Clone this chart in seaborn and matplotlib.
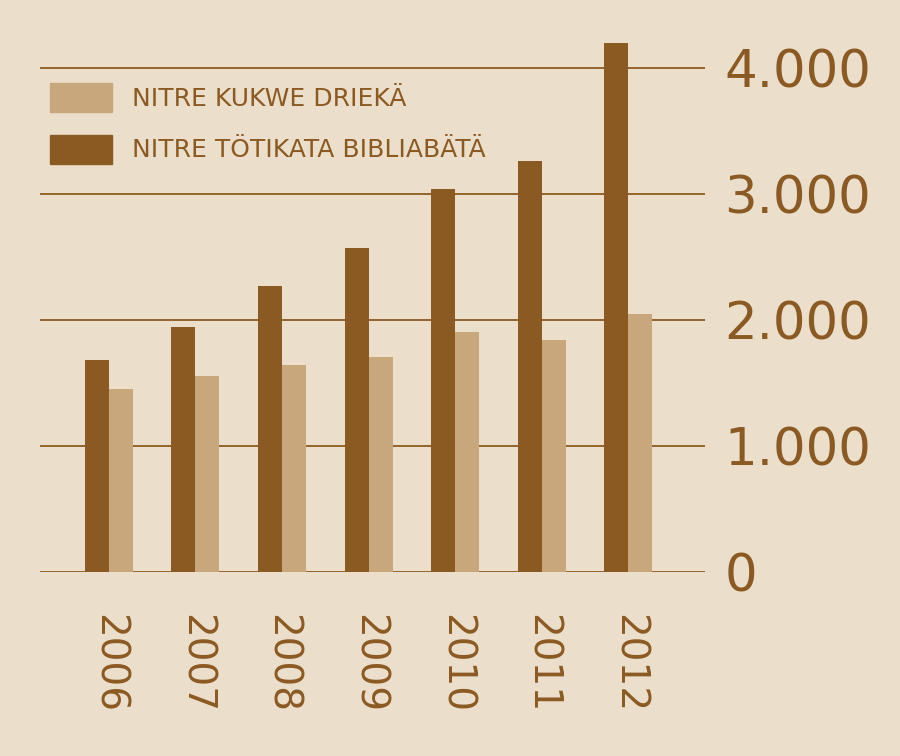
import matplotlib
matplotlib.use("Agg")
import matplotlib.pyplot as plt
import seaborn as sns
import pandas as pd
from matplotlib.patches import Patch

years = ["2006", "2007", "2008", "2009", "2010", "2011", "2012"]
kukwe = [1452, 1556, 1643, 1706, 1905, 1841, 2048]
totikata = [1683, 1944, 2270, 2571, 3040, 3262, 4198]
yticks = [0, 1000, 2000, 3000, 4000]
ytick_labels = ["0", "1.000", "2.000", "3.000", "4.000"]
lab_k = "NITRE KUKWE DRIEKÄ"
lab_t = "NITRE TÖTIKATA BIBLIABÄTÄ"

bg = "#ebdfcc"; dark = "#8b5a22"; light = "#c9a77c"; txt = "#8b5a22"

df = pd.DataFrame({"year": years * 2,
                   "value": totikata + kukwe,
                   "series": [lab_t] * 7 + [lab_k] * 7})

sns.set_style("white")
plt.rcParams["font.family"] = ["Liberation Sans Narrow", "DejaVu Sans"]
fig = plt.figure(figsize=(9, 7.56), dpi=100, facecolor=bg)
ax = fig.add_axes([0.044, 0.2434, 0.739, 0.717], facecolor=bg)
sns.barplot(data=df, x="year", y="value", hue="series", hue_order=[lab_t, lab_k],
            palette=[dark, light], width=0.554, ax=ax, legend=False,
            saturation=1, edgecolor="none")
ax.set_xlim(-0.797, 6.88)
ax.set_ylim(0, 4300)
for v in yticks:
    ax.axhline(v, color=dark, lw=1.3, zorder=0)
for s in ax.spines.values():
    s.set_visible(False)
ax.yaxis.tick_right()
ax.set_yticks(yticks)
ax.set_yticklabels(ytick_labels, fontsize=37, color=txt)
ax.tick_params(axis="y", length=0, pad=14)
ax.tick_params(axis="x", length=0, pad=30)
ax.set_xticks(range(7))
ax.set_xticklabels(years, rotation=-90, fontsize=28, color=txt, va="top")
ax.set_xlabel(""); ax.set_ylabel("")
handles = [Patch(color=light), Patch(color=dark)]
ax.legend(handles, [lab_k, lab_t], loc="upper left", bbox_to_anchor=(0.0, 0.92),
          frameon=False, fontsize=18, labelcolor=txt, handlelength=2.5,
          handleheight=1.4, handletextpad=0.8, labelspacing=0.9, borderaxespad=0)
fig.savefig("out.png", dpi=100, facecolor=bg)
